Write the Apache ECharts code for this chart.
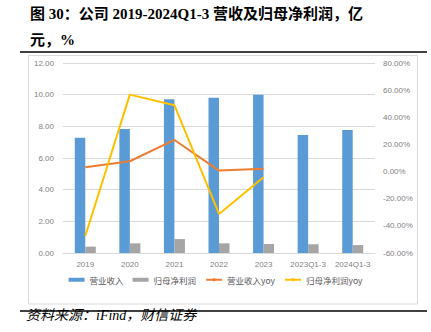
<!DOCTYPE html>
<html><head><meta charset="utf-8">
<script src="https://cdn.jsdelivr.net/npm/echarts@6/dist/echarts.min.js"></script>
<style>html,body{margin:0;padding:0;background:#fff}#c{width:431px;height:332px}</style>
</head><body><div id="c"></div>
<script>
const categories = ['2019','2020','2021','2022','2023','2023Q1-3','2024Q1-3'];
const revenue = [7.28, 7.83, 9.71, 9.81, 10.0, 7.45, 7.77];
const netProfit = [0.40, 0.61, 0.88, 0.61, 0.57, 0.55, 0.50];
const revenueYoy = [3.2, 7.6, 23.3, 0.7, 2.1, null, null];
const netProfitYoy = [-47.5, 56.7, 48.9, -31.2, -4.2, null, null];
const seriesNames = ['营业收入','归母净利润','营业收入yoy','归母净利润yoy'];
const titleLine1 = '图 30：公司 2019-2024Q1-3 营收及归母净利润，亿';
const titleLine2 = '元，%';
const sourceText = '资料来源：iFind，财信证券';

const chart = echarts.init(document.getElementById('c'), null, {renderer:'svg'});
const axisLabelStyle = {color:'#7f7f7f', fontSize:8, fontFamily:'Liberation Sans, Arial'};
chart.setOption({
  animation:false,
  backgroundColor:'#fff',
  color:['#5B9BD5','#A5A5A5','#ED7D31','#FFC000'],
  graphic:[
    {type:'text', left:30, top:6, style:{text:titleLine1, font:'bold 15px "Liberation Serif", "Noto Sans CJK SC"', fill:'#000'}},
    {type:'text', left:30, top:32, style:{text:titleLine2, font:'bold 15px "Liberation Serif", "Noto Sans CJK SC"', fill:'#000'}},
    {type:'rect', shape:{x:20,y:51,width:407,height:2}, style:{fill:'#404040'}},
    {type:'rect', shape:{x:28.5,y:55.5,width:389,height:248.5}, style:{fill:'none', stroke:'#d9d9d9', lineWidth:1}},
    {type:'rect', shape:{x:20,y:310,width:407,height:2}, style:{fill:'#404040'}},
    {type:'text', left:26, top:308, style:{text:sourceText, font:'italic 14px "Liberation Serif", "Noto Sans CJK SC"', fill:'#000'}}
  ],
  grid:{left:63, right:56, top:63, bottom:79},
  legend:{
    bottom:43, left:'center', itemWidth:16, itemHeight:4, itemGap:9,
    textStyle:{color:'#595959', fontSize:8.5, fontFamily:'Noto Sans CJK SC'},
    data:[{name:seriesNames[0], icon:'rect'},{name:seriesNames[1], icon:'rect'},{name:seriesNames[2]},{name:seriesNames[3]}]
  },
  xAxis:{type:'category', data:categories,
    axisLine:{lineStyle:{color:'#d9d9d9'}}, axisTick:{show:false},
    axisLabel:Object.assign({margin:7, interval:0}, axisLabelStyle)},
  yAxis:[
    {type:'value', min:0, max:12, interval:2,
     axisLabel:Object.assign({margin:9, formatter:v=>v.toFixed(2)}, axisLabelStyle),
     splitLine:{lineStyle:{color:'#d9d9d9'}}, axisLine:{show:false}, axisTick:{show:false}},
    {type:'value', min:-60, max:80, interval:20,
     axisLabel:Object.assign({margin:8, formatter:v=>v.toFixed(2)+'%'}, axisLabelStyle),
     splitLine:{show:false}, axisLine:{show:false}, axisTick:{show:false}}
  ],
  series:[
    {name:seriesNames[0], type:'bar', data:revenue, barWidth:10.5, barGap:'0%'},
    {name:seriesNames[1], type:'bar', data:netProfit, barWidth:10.5, barGap:'0%'},
    {name:seriesNames[2], type:'line', yAxisIndex:1, data:revenueYoy, symbol:'none', lineStyle:{width:2}},
    {name:seriesNames[3], type:'line', yAxisIndex:1, data:netProfitYoy, symbol:'none', lineStyle:{width:2}}
  ]
});
</script></body></html>
